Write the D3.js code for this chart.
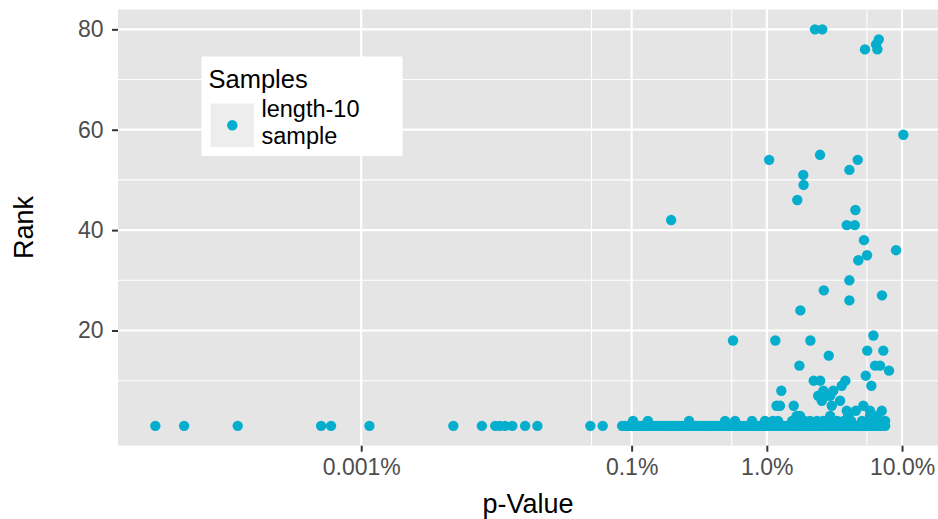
<!DOCTYPE html>
<html lang="en">
<head>
  <meta charset="UTF-8">
  <title>Rank vs p-Value</title>
  <script src="https://cdn.jsdelivr.net/npm/d3@7"></script>
  <style>
    body { margin: 0; background: #fff; }
    text { font-family: "Liberation Sans", Arial, Helvetica, sans-serif; }
  </style>
</head>
<body>
<div id="chart"></div>
<script>

// p-values are in percent
// rank 1 row (the long band along the bottom)
const rankOnePct = [0.000030, 0.000049, 0.000122, 0.000505, 0.000598, 0.00115, 0.0048, 0.0078,
  0.0098, 0.0106, 0.0116, 0.0131, 0.0163, 0.0201, 0.0495, 0.0611,
  0.085, 0.089, 0.094, 0.097, 0.099, 0.102, 0.105, 0.109, 0.113, 0.118, 0.121, 0.127, 0.133,
  0.138, 0.145, 0.151, 0.158, 0.166, 0.172, 0.181, 0.189, 0.197, 0.206, 0.215, 0.226, 0.236,
  0.247, 0.259, 0.272, 0.284, 0.297, 0.311, 0.326, 0.342, 0.357, 0.373, 0.391, 0.41, 0.428,
  0.449, 0.47, 0.491, 0.515, 0.538, 0.564, 0.59, 0.617, 0.646, 0.677, 0.708, 0.741, 0.776,
  0.812, 0.85, 0.889, 0.93, 0.974, 1.02, 1.07, 1.12, 1.17, 1.22, 1.28, 1.34, 1.4, 1.47, 1.53,
  1.61, 1.68, 1.76, 1.84, 1.93, 2.02, 2.11, 2.21, 2.31, 2.42, 2.53, 2.65, 2.77, 2.9, 3.04,
  3.18, 3.33, 3.48, 3.65, 3.82, 4.0, 4.18, 4.38, 4.58, 4.8, 5.02, 5.26, 5.5, 5.76, 6.03, 6.31,
  6.6, 6.92, 7.24, 7.5];

const rankTwoPct = [0.1024, 0.132, 0.266, 0.491, 0.582, 0.777, 0.97, 1.11, 1.21, 1.54, 1.9,
  2.09, 2.35, 2.6, 3.0, 3.31, 3.7, 4.2, 5.06, 5.6, 6.5, 7.49];

const rankThreePct = [1.66, 1.76, 2.94, 4.0, 5.8, 6.6];

// [p-value %, rank] for everything above rank 3
const upperPoints = [
  [3.9, 4], [4.55, 4], [5.8, 4], [7.08, 4],
  [1.18, 5], [1.25, 5], [1.58, 5], [3.02, 5], [5.17, 5],
  [2.55, 6], [3.48, 6],
  [2.4, 7], [2.72, 7], [2.94, 7],
  [1.28, 8], [2.62, 8], [3.1, 8],
  [3.58, 9], [5.93, 9],
  [2.22, 10], [2.48, 10], [3.81, 10],
  [5.39, 11], [8.01, 12],
  [1.74, 13], [6.32, 13], [6.88, 13],
  [2.87, 15], [5.53, 16], [7.27, 16],
  [0.562, 18], [1.156, 18], [2.1, 18],
  [6.14, 19], [1.77, 24], [4.08, 26], [7.11, 27], [2.64, 28], [4.08, 30],
  [4.75, 34], [5.51, 35], [9.03, 36], [5.23, 38],
  [3.9, 41], [4.47, 41], [0.196, 42], [4.52, 44], [1.68, 46],
  [1.87, 49], [1.86, 51], [4.08, 52], [1.04, 54], [4.7, 54], [2.475, 55],
  [10.23, 59], [5.32, 76], [6.57, 76], [6.43, 77], [6.73, 78],
  [2.27, 80], [2.57, 80]
];

const xBreaks = [0.00001, 0.001, 0.01, 0.1];
const xLabels = ["0.001%", "0.1%", "1.0%", "10.0%"];
const xMinor = [0.000505, 0.0055, 0.055];
const yBreaks = [20, 40, 60, 80];
const yMinor = [10, 30, 50, 70];

const points = []
  .concat(rankOnePct.map(p => ({p: p / 100, rank: 1})))
  .concat(rankTwoPct.map(p => ({p: p / 100, rank: 2})))
  .concat(rankThreePct.map(p => ({p: p / 100, rank: 3})))
  .concat(upperPoints.map(d => ({p: d[0] / 100, rank: d[1]})));

const width = 938, height = 519;
const margin = {top: 9.5, left: 118, right: 0, bottom: 73.3};
const plotWidth = width - margin.left - margin.right;
const plotHeight = height - margin.top - margin.bottom;
const pointColor = "#06AECD";

const svg = d3.select("#chart").append("svg")
    .attr("width", width)
    .attr("height", height);

const g = svg.append("g")
    .attr("transform", "translate(" + margin.left + "," + margin.top + ")");

// panel limits (log10 range with ggplot-style padding)
const x = d3.scaleLog()
    .domain([Math.pow(10, -6.799), Math.pow(10, -0.734)])
    .range([0, plotWidth]);

const y = d3.scaleLinear()
    .domain([-2.95, 83.95])
    .range([plotHeight, 0]);

g.append("rect")
    .attr("width", plotWidth)
    .attr("height", plotHeight)
    .attr("fill", "#E5E5E5");

// grid lines
g.selectAll(".xminor").data(xMinor).enter().append("line")
    .attr("x1", d => x(d)).attr("x2", d => x(d))
    .attr("y1", 0).attr("y2", plotHeight)
    .attr("stroke", "#fff").attr("stroke-width", 1.1);
g.selectAll(".yminor").data(yMinor).enter().append("line")
    .attr("y1", d => y(d)).attr("y2", d => y(d))
    .attr("x1", 0).attr("x2", plotWidth)
    .attr("stroke", "#fff").attr("stroke-width", 1.1);
g.selectAll(".xmajor").data(xBreaks).enter().append("line")
    .attr("x1", d => x(d)).attr("x2", d => x(d))
    .attr("y1", 0).attr("y2", plotHeight)
    .attr("stroke", "#fff").attr("stroke-width", 2.2);
g.selectAll(".ymajor").data(yBreaks).enter().append("line")
    .attr("y1", d => y(d)).attr("y2", d => y(d))
    .attr("x1", 0).attr("x2", plotWidth)
    .attr("stroke", "#fff").attr("stroke-width", 2.2);

// points
g.append("g")
  .selectAll("circle")
  .data(points)
  .enter()
  .append("circle")
    .attr("cx", d => x(d.p))
    .attr("cy", d => y(d.rank))
    .attr("r", 5.2)
    .attr("fill", pointColor);

// axes
const xAxis = g.append("g")
    .attr("transform", "translate(0," + plotHeight + ")")
    .call(d3.axisBottom(x).tickValues(xBreaks)
      .tickFormat((d, i) => xLabels[i]).tickSize(6).tickPadding(6.5));
const yAxis = g.append("g")
    .call(d3.axisLeft(y).tickValues(yBreaks).tickSize(6).tickPadding(8.5));

[xAxis, yAxis].forEach(a => {
  a.select(".domain").remove();
  a.selectAll(".tick line").attr("stroke", "#333").attr("stroke-width", 2);
  a.selectAll(".tick text")
    .attr("fill", "#4D4D4D")
    .style("font-size", "23px")
    .style("font-family", "'Liberation Sans', Arial, sans-serif");
});

// axis titles
svg.append("text")
    .attr("x", margin.left + plotWidth / 2)
    .attr("y", 513)
    .attr("text-anchor", "middle")
    .style("font-size", "27px")
    .text("p-Value");

svg.append("text")
    .attr("transform", "translate(33," + (margin.top + plotHeight / 2) + ") rotate(-90)")
    .attr("text-anchor", "middle")
    .style("font-size", "27px")
    .text("Rank");

// legend
const legend = svg.append("g").attr("transform", "translate(201.5,56.5)");
legend.append("rect")
    .attr("width", 201).attr("height", 99.5)
    .attr("fill", "#fff");
legend.append("text")
    .attr("x", 7).attr("y", 31)
    .style("font-size", "25.5px")
    .text("Samples");
legend.append("rect")
    .attr("x", 9).attr("y", 47)
    .attr("width", 43.5).attr("height", 43.5)
    .attr("fill", "#EDEDED");
legend.append("circle")
    .attr("cx", 30.8).attr("cy", 68.8)
    .attr("r", 5.2)
    .attr("fill", pointColor);
legend.append("text")
    .attr("x", 60).attr("y", 60)
    .style("font-size", "23.5px")
    .text("length-10");
legend.append("text")
    .attr("x", 60).attr("y", 87)
    .style("font-size", "23.5px")
    .text("sample");

</script>
</body>
</html>
